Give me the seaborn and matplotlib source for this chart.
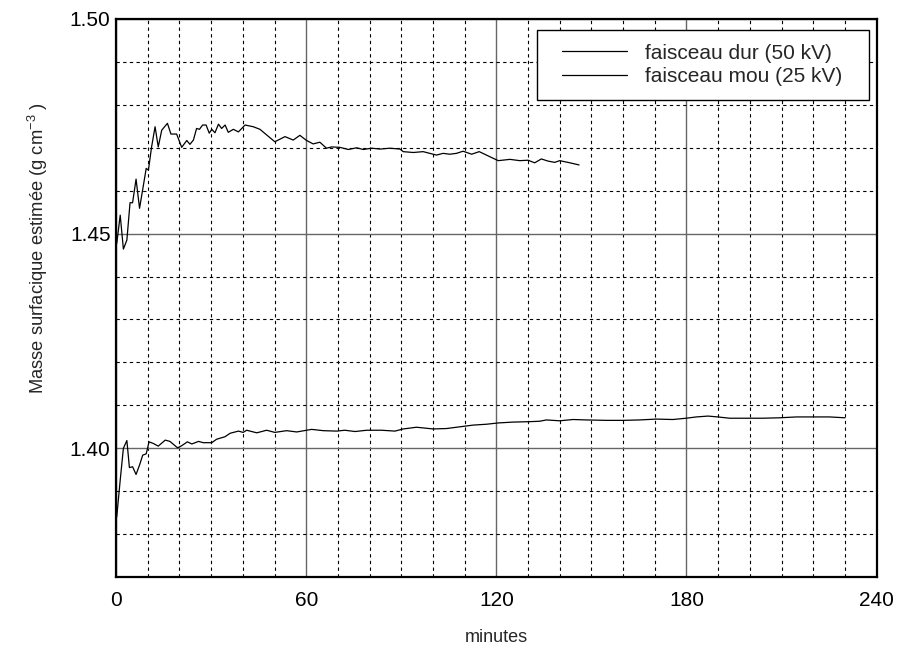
import numpy as np
import pandas as pd
import matplotlib
matplotlib.use("Agg")
import matplotlib.pyplot as plt
import matplotlib.patches as mpatches
import seaborn as sb
from matplotlib.ticker import MultipleLocator

# Data (minutes, estimated density)
t_dur = [0.2, 1.3, 2.3, 3.4, 4.4, 5.2, 6.3, 7.4, 8.4, 9.5, 10.2, 11.2, 12.3, 13.3,
         14.4, 16.2, 17.3, 19.1, 20.7, 22.3, 23.3, 24.4, 25.4, 26.3, 27.3, 28.4,
         29.4, 30.2, 31.2, 32.3, 33.3, 34.4, 35.4, 37.0, 38.6, 40.7, 43.3, 45.4,
         47.5, 50.1, 53.3, 55.9, 58.0, 60.1, 62.2, 64.3, 66.4, 68.0, 70.6, 73.3,
         75.9, 78.0, 80.6, 83.3, 86.4, 89.6, 90.6, 93.8, 96.9, 101.1, 103.2, 105.3,
         107.4, 109.5, 112.2, 114.6, 118.0, 120.6, 124.3, 127.4, 130.0, 132.1,
         134.2, 136.3, 138.4, 140.0, 143.2, 146.1]
m_dur = [1.4477, 1.4543, 1.4464, 1.4485, 1.4572, 1.4572, 1.4627, 1.4559, 1.4603,
         1.4652, 1.4648, 1.4702, 1.4749, 1.4702, 1.4741, 1.4757, 1.4732, 1.4732,
         1.4701, 1.4717, 1.4708, 1.4718, 1.4745, 1.4743, 1.4753, 1.4753, 1.4734,
         1.4743, 1.4735, 1.4755, 1.4745, 1.4753, 1.4736, 1.4743, 1.4737, 1.4753,
         1.4749, 1.4743, 1.4730, 1.4714, 1.4726, 1.4718, 1.4729, 1.4717, 1.4709,
         1.4713, 1.4699, 1.4702, 1.4701, 1.4696, 1.4700, 1.4696, 1.4699, 1.4697,
         1.4699, 1.4697, 1.4691, 1.4689, 1.4691, 1.4683, 1.4687, 1.4685, 1.4687,
         1.4692, 1.4685, 1.4691, 1.4679, 1.4670, 1.4673, 1.4670, 1.4671, 1.4665,
         1.4674, 1.4669, 1.4666, 1.4670, 1.4665, 1.4660]

t_mou = [0.2, 1.3, 2.3, 3.4, 4.2, 5.2, 6.3, 7.4, 8.4, 9.5, 10.4, 11.8, 13.3, 15.5,
         17.0, 19.4, 20.7, 22.5, 23.9, 26.0, 27.5, 30.2, 31.7, 34.4, 36.0, 38.6,
         40.1, 41.2, 44.4, 47.5, 50.1, 53.8, 57.0, 61.7, 65.4, 69.6, 72.2, 75.4,
         79.1, 83.8, 88.0, 90.6, 94.8, 100.1, 104.3, 108.5, 112.7, 116.9, 120.6,
         125.3, 130.6, 133.7, 135.8, 140.0, 144.2, 148.4, 154.7, 160.0, 165.2,
         170.5, 175.7, 179.9, 183.1, 186.8, 189.9, 193.6, 198.9, 204.1, 209.4,
         214.7, 219.9, 225.2, 230.0]
m_mou = [1.3840, 1.3926, 1.4000, 1.4018, 1.3955, 1.3957, 1.3939, 1.3961, 1.3984,
         1.3987, 1.4015, 1.4011, 1.4005, 1.4019, 1.4016, 1.4001, 1.4006, 1.4015,
         1.4010, 1.4016, 1.4013, 1.4013, 1.4021, 1.4027, 1.4035, 1.4040, 1.4037,
         1.4042, 1.4036, 1.4042, 1.4037, 1.4041, 1.4038, 1.4044, 1.4041, 1.4040,
         1.4042, 1.4039, 1.4042, 1.4042, 1.4040, 1.4045, 1.4049, 1.4045, 1.4046,
         1.4050, 1.4054, 1.4056, 1.4059, 1.4061, 1.4062, 1.4063, 1.4066, 1.4064,
         1.4067, 1.4066, 1.4065, 1.4065, 1.4066, 1.4068, 1.4067, 1.4070, 1.4073,
         1.4075, 1.4073, 1.4070, 1.4070, 1.4070, 1.4071, 1.4073, 1.4073, 1.4073,
         1.4071]

labels = ["faisceau dur (50 kV)", "faisceau mou (25 kV)"]

df = pd.concat([
    pd.DataFrame({"minutes": t_dur, "masse": m_dur, "serie": labels[0]}),
    pd.DataFrame({"minutes": t_mou, "masse": m_mou, "serie": labels[1]}),
])

sb.set_style("white")
plt.rcParams['font.family'] = ['Liberation Sans', 'DejaVu Sans']
plt.rcParams['mathtext.default'] = 'regular'

fig = plt.figure(figsize=(9, 6.55), dpi=100)
ax = fig.add_axes([0.129, 0.119, 0.845, 0.852])

sb.lineplot(data=df, x="minutes", y="masse", hue="serie", hue_order=labels,
            palette=["black", "black"], linewidth=0.9, ax=ax, sort=False,
            estimator=None, zorder=3)

# grid: solid grey majors, dashed black minors
ax.set_xlim(0, 240)
ax.set_ylim(1.37, 1.50)
ax.xaxis.set_major_locator(MultipleLocator(60))
ax.xaxis.set_minor_locator(MultipleLocator(10))
ax.yaxis.set_major_locator(MultipleLocator(0.05))
ax.yaxis.set_minor_locator(MultipleLocator(0.01))
ax.yaxis.set_major_formatter(matplotlib.ticker.FormatStrFormatter('%.2f'))
ax.grid(which='major', color='#666666', linewidth=1.0, linestyle='-')
ax.grid(which='minor', color='black', linewidth=0.8, linestyle=(0, (3, 3)))
ax.set_axisbelow(True)
ax.tick_params(which='both', length=0, labelsize=15, colors='black')
ax.tick_params(axis='x', pad=10)
ax.tick_params(axis='y', pad=4)
for s in ax.spines.values():
    s.set_color('black')
    s.set_linewidth(1.6)

ax.set_xlabel("minutes", fontsize=13, labelpad=14)
ax.set_ylabel("Masse surfacique estimée (g cm$^{-3}$ )", fontsize=13.2)
ax.yaxis.set_label_coords(-0.087, 0.59)

# legend box drawn separately so the padding is wider left/right than top/bottom
frame = mpatches.Rectangle((0.553, 0.855), 0.4365, 0.125, transform=ax.transAxes,
                           facecolor='white', edgecolor='black', linewidth=1.0,
                           zorder=4)
ax.add_patch(frame)
leg = ax.legend(loc='upper left', bbox_to_anchor=(0.586, 0.956), fontsize=15,
                frameon=False, handlelength=3.12, handletextpad=0.87,
                borderpad=0, labelspacing=0.23, borderaxespad=0)
leg.set_zorder(5)

plt.savefig("out.png", dpi=100)
